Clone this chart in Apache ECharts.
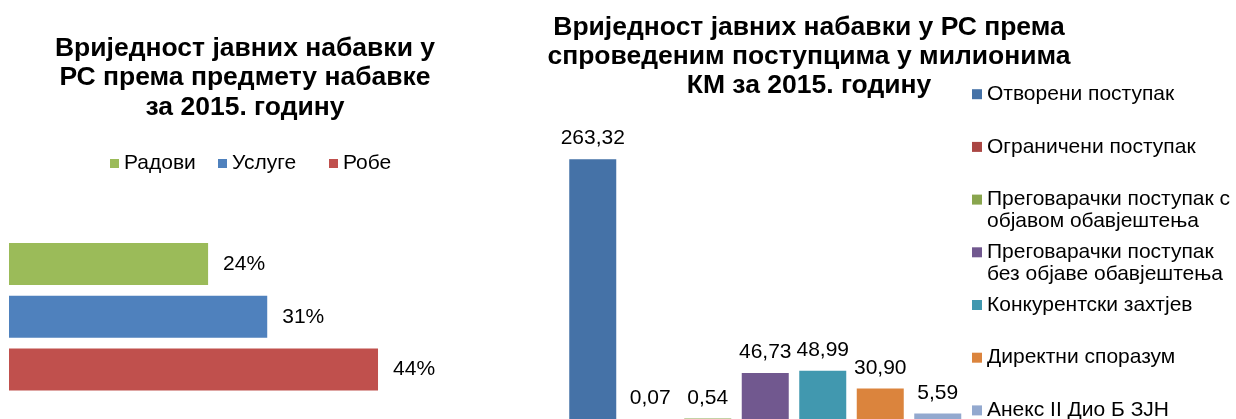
<!DOCTYPE html>
<html>
<head>
<meta charset="utf-8">
<title>Вриједност јавних набавки у РС 2015</title>
<script src="https://cdn.jsdelivr.net/npm/echarts@6/dist/echarts.min.js"></script>
<style>
html, body { margin: 0; padding: 0; background: #fff; }
#chart { width: 1236px; height: 419px; }
</style>
</head>
<body>
<div id="chart"></div>
<script>
// lijevi grafikon - predmet nabavke (%)
var subjectNames = ['Радови', 'Услуге', 'Робе'];
var subjectShares = [23.9, 31.0, 44.3];
var subjectColors = ['#9BBB59', '#4F81BD', '#C0504D'];

// desni grafikon - postupci (miliona KM)
var procedureNames = [
  'Отворени поступак',
  'Ограничени поступак',
  'Преговарачки поступак с\nобјавом обавјештења',
  'Преговарачки поступак\nбез објаве обавјештења',
  'Конкурентски захтјев',
  'Директни споразум',
  'Анекс II Дио Б ЗЈН'
];
var procedureValues = [263.32, 0.07, 0.54, 46.73, 48.99, 30.90, 5.59];
var procedureColors = ['#4572A7', '#AA4643', '#89A54E', '#71588F', '#4198AF', '#DB843D', '#93A9CF'];

var font = "'Liberation Sans', Arial, sans-serif";

// jedna serija po kategoriji, kao u Excelu
function onlyAt(len, i, v) {
  var arr = [];
  for (var j = 0; j < len; j++) arr.push(j === i ? v : '-');
  return arr;
}

var series = [];
subjectNames.forEach(function (name, i) {
  series.push({
    name: name,
    type: 'bar',
    xAxisIndex: 0,
    yAxisIndex: 0,
    barWidth: 42,
    barGap: '-100%',
    itemStyle: { color: subjectColors[i] },
    label: {
      show: true,
      position: 'right',
      distance: 15,
      color: '#000',
      fontFamily: font,
      fontSize: 21,
      formatter: function (p) { return Math.round(p.value) + '%'; }
    },
    data: onlyAt(subjectNames.length, i, subjectShares[i])
  });
});
procedureNames.forEach(function (name, i) {
  series.push({
    name: name,
    type: 'bar',
    xAxisIndex: 1,
    yAxisIndex: 1,
    barWidth: 47,
    barGap: '-100%',
    itemStyle: { color: procedureColors[i] },
    label: {
      show: true,
      position: 'top',
      distance: 10,
      color: '#000',
      fontFamily: font,
      fontSize: 21,
      formatter: function (p) { return p.value.toFixed(2).replace('.', ','); }
    },
    data: onlyAt(procedureNames.length, i, procedureValues[i])
  });
});

var legendText = { fontFamily: font, fontSize: 21, lineHeight: 22, color: '#000' };
var legends = [];
var subjectLegendLeft = [110, 218, 329];
subjectNames.forEach(function (name, i) {
  legends.push({
    data: [name],
    left: subjectLegendLeft[i],
    top: 152.5,
    padding: 0,
    icon: 'rect',
    itemWidth: 9,
    itemHeight: 9,
    textStyle: legendText
  });
});
procedureNames.forEach(function (name, i) {
  var twoLines = name.indexOf('\n') >= 0;
  var iconY = 93.7 + 52.7 * i;
  legends.push({
    orient: 'vertical',
    data: [name],
    left: 972,
    top: twoLines ? iconY - 32.5 : iconY - 10.5,
    padding: 0,
    icon: 'rect',
    itemWidth: 10,
    itemHeight: 10,
    // prazan prvi red da ikona stoji uz prvi red teksta
    formatter: twoLines ? function (n) { return '\n' + n; } : '{name}',
    textStyle: legendText
  });
});

var titleText = { fontFamily: font, fontSize: 26.5, fontWeight: 'bold', lineHeight: 29.3, color: '#000' };

var option = {
  animation: false,
  backgroundColor: '#fff',
  title: [{
    text: 'Вриједност јавних набавки у\nРС према предмету набавке\nза 2015. годину',
    left: 245,
    top: 34,
    padding: 0,
    textAlign: 'center',
    textStyle: titleText
  }, {
    text: 'Вриједност јавних набавки у РС према\nспроведеним поступцима у милионима\nКМ за 2015. годину',
    left: 809,
    top: 12.6,
    padding: 0,
    textAlign: 'center',
    textStyle: titleText
  }],
  legend: legends,
  grid: [
    { left: 9, top: 237.6, width: 416.5, height: 158.3 },
    { left: 564, top: 123, width: 402.5, height: 297 }
  ],
  xAxis: [
    { type: 'value', gridIndex: 0, min: 0, max: 50, show: false },
    { type: 'category', gridIndex: 1, data: procedureNames, show: false }
  ],
  yAxis: [
    { type: 'category', gridIndex: 0, data: subjectNames, inverse: true, show: false },
    { type: 'value', gridIndex: 1, min: 0, max: 300, show: false }
  ],
  series: series
};

var myChart = echarts.init(document.getElementById('chart'));
myChart.setOption(option);
</script>
</body>
</html>
